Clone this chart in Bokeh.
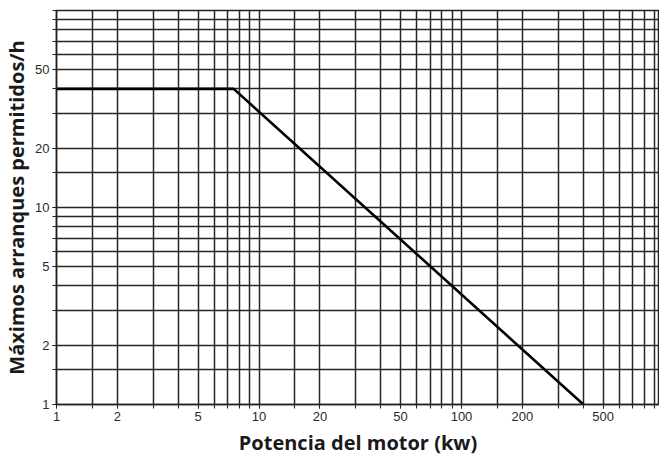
from bokeh.plotting import figure
from bokeh.models import FixedTicker, Range1d
from bokeh.embed import file_html
from bokeh.resources import INLINE

# Data
potencia_kw = [1, 7.5, 400]
arranques_h = [40, 40, 1]

x_labeled = [1, 2, 5, 10, 20, 50, 100, 200, 500]
y_labeled = [1, 2, 5, 10, 20, 50]
x_grid = [1, 1.5, 2, 3, 4, 5, 6, 7, 8, 9,
          10, 15, 20, 30, 40, 50, 60, 70, 80, 90,
          100, 150, 200, 300, 400, 500, 600, 700, 800, 900]
y_grid = [1, 1.5, 2, 3, 4, 5, 6, 7, 8, 9,
          10, 15, 20, 30, 40, 50, 60, 70, 80, 90, 100]

p = figure(width=659, height=458, x_axis_type="log", y_axis_type="log",
           x_range=Range1d(1, 950), y_range=Range1d(1, 100),
           output_backend="svg", toolbar_location=None,
           min_border_left=54, min_border_right=0, min_border_top=10, min_border_bottom=53)

p.background_fill_color = "white"
p.border_fill_color = "white"
p.outline_line_color = "#222222"
p.outline_line_width = 1.5

grid_color = "#262626"
p.xgrid.ticker = FixedTicker(ticks=x_grid)
p.ygrid.ticker = FixedTicker(ticks=y_grid)
for g in (p.xgrid, p.ygrid):
    g.grid_line_color = grid_color
    g.grid_line_width = 1.5
    g.grid_line_alpha = 1.0

p.xaxis.ticker = FixedTicker(ticks=x_labeled, minor_ticks=x_grid)
p.yaxis.ticker = FixedTicker(ticks=y_labeled, minor_ticks=y_grid)

for ax in (p.xaxis, p.yaxis):
    ax.axis_line_color = "#222222"
    ax.axis_line_width = 1.5
    ax.major_tick_line_color = "#222222"
    ax.minor_tick_line_color = "#222222"
    ax.major_tick_in = 0
    ax.major_tick_out = 4
    ax.minor_tick_in = 0
    ax.minor_tick_out = 4
    ax.major_label_text_font = "Liberation Sans"
    ax.major_label_text_font_size = "13px"
    ax.major_label_text_color = "#2b2b2b"
    ax.major_label_standoff = 3
    ax.axis_label_text_font = "Open Sans"
    ax.axis_label_text_font_style = "bold"
    ax.axis_label_text_font_size = "20px"
    ax.axis_label_text_color = "#1a1a1a"

p.xaxis.major_label_overrides = {v: str(v) for v in x_labeled}
p.yaxis.major_label_overrides = {v: str(v) for v in y_labeled}

p.xaxis.axis_label = "Potencia del motor (kw)"
p.yaxis.axis_label = "Máximos arranques permitidos/h"
p.xaxis.axis_label_standoff = 5
p.yaxis.axis_label_standoff = 2

p.line(potencia_kw, arranques_h, line_color="black", line_width=2.6)

open("out.html", "w").write(file_html(p, INLINE))
